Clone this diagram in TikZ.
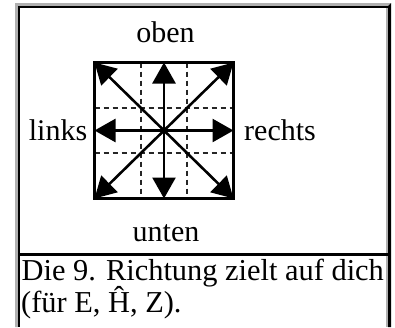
\documentclass[tikz,border=0pt]{standalone}
\usepackage{fontspec}
\setmainfont{Liberation Serif}
\usetikzlibrary{arrows.meta}
\definecolor{bevel}{RGB}{176,176,176}
\tikzset{
  lbl/.style={inner sep=0pt, anchor=base, font=\fontsize{30}{34}\selectfont},
  arr/.style={line width=2.6pt, -{Triangle[length=21pt,width=23pt]}},
  gridline/.style={line width=1.5pt, black!85, dash pattern=on 5pt off 4pt},
}
\begin{document}
\begin{tikzpicture}[x=1pt,y=-1pt]
\useasboundingbox (0,0) rectangle (395,327);
\fill[white] (0,0) rectangle (395,327);
% outer table border (outset)
\fill[bevel] (15,3) -- (391,3) -- (388,6) -- (18,6) -- (18,327) -- (15,327) -- cycle;
\fill[black] (391,3) -- (391,327) -- (388,327) -- (388,6) -- cycle;
% cell 1 (inset)
\fill[black] (18,6) rectangle (388,8);
\fill[black] (18,6) rectangle (20,254);
\fill[bevel] (385.7,8) rectangle (388,254);
% cell 2 (inset)
\fill[black] (18,253) rectangle (388,255.5);
\fill[black] (18,255.5) rectangle (20,327);
\fill[bevel] (385.7,255.5) rectangle (388,327);
% grid
\coordinate (c) at (164,130.5);
\coordinate (nw) at (94.5,62.5);
\coordinate (ne) at (233.5,62.5);
\coordinate (sw) at (94.5,198.5);
\coordinate (se) at (233.5,198.5);
\coordinate (n) at (164,62.5);
\coordinate (s) at (164,198.5);
\coordinate (w) at (94.5,130.5);
\coordinate (e) at (233.5,130.5);
\foreach \xx in {140.8,187.2} \draw[gridline] (\xx,62.5) -- (\xx,198.5);
\foreach \yy in {107.8,153.2} \draw[gridline] (94.5,\yy) -- (233.5,\yy);
\draw[line width=2.8pt] (nw) rectangle (se);
\foreach \t in {n,s,w,e,nw,ne,sw,se} \draw[arr] (c) -- (\t);
% labels
\node[lbl] (oben) at (165.5,42) {oben};
\node[lbl] (links) at (58,140) {links};
\node[lbl] (rechts) at (280,140) {rechts};
\node[lbl] (unten) at (166,241) {unten};
\node[lbl, anchor=base west, font=\fontsize{30.4}{35}\selectfont] (l1) at (21.5,280) {Die 9. Richtung zielt auf dich};
\node[lbl, anchor=base west, font=\fontsize{30.4}{35}\selectfont] (l2) at (21,312) {(für E, Ĥ, Z).};
\end{tikzpicture}
\end{document}
